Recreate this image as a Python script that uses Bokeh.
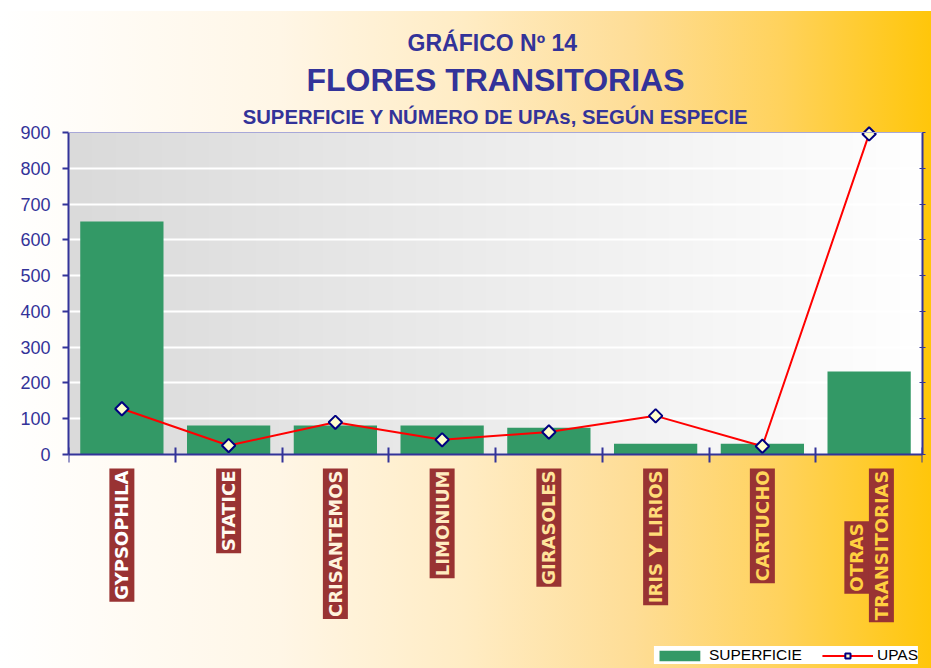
import numpy as np
from math import pi
from bokeh.plotting import figure
from bokeh.models import (Range1d, LinearAxis, FixedTicker, Label, Legend,
                          LegendItem, Grid, Span)
from bokeh.embed import file_html
from bokeh.resources import INLINE

# ---------------- data ----------------
categories = ["GYPSOPHILA", "STATICE", "CRISANTEMOS", "LIMONIUM", "GIRASOLES",
              "IRIS Y LIRIOS", "CARTUCHO", "OTRAS\nTRANSITORIAS"]
superficie = [651, 81, 81, 81, 75, 30, 30, 232]
upas = [128, 25, 90, 41, 63, 108, 23, 896]
y_ticks = [0, 100, 200, 300, 400, 500, 600, 700, 800, 900]
title_lines = ["GRÁFICO Nº  14", "FLORES TRANSITORIAS",
               "SUPERFICIE Y NÚMERO DE UPAs, SEGÚN ESPECIE"]
series_names = ["SUPERFICIE", "UPAS"]

# ---------------- layout / styles ----------------
BLUE = "#333399"
FONT = "Liberation Sans"
W, H = 931, 668
FR_LEFT, FR_RIGHT = 68, 922          # plot-area pixel edges
PX_TOP, PX_ZERO = 132, 454           # pixel rows of 900 and 0
YMAX = y_ticks[-1]
k = YMAX / (PX_ZERO - PX_TOP)        # data units per pixel
y_lo = -(H - PX_ZERO) * k
y_hi = YMAX + PX_TOP * k

xs = list(range(1, len(categories) + 1))
n = len(categories)

p = figure(width=W, height=H,
           x_range=Range1d(0.5, n + 0.5), y_range=Range1d(y_lo, y_hi),
           output_backend="svg", toolbar_location=None,
           x_axis_type=None, y_axis_type=None,
           min_border_left=FR_LEFT, min_border_right=W - FR_RIGHT,
           min_border_top=0, min_border_bottom=0,
           background_fill_color=None, border_fill_color=None,
           outline_line_color=None,
           styles={"background":
                   "linear-gradient(to bottom, #ffffff 0px, #ffffff 11px, transparent 11px), "
                   "linear-gradient(to right, #ffffff 0%, #fff6e6 30%, #ffecc4 50%, "
                   "#fedd96 68%, #ffd25c 84%, #ffc60a 100%)"})

# plot-area gradient (grey -> white)
N = 256
img = np.empty((1, N), dtype=np.uint32)
view = img.view(dtype=np.uint8).reshape((1, N, 4))
t = np.linspace(0, 1, N)
g = (218 + (255 - 218) * t).astype(np.uint8)
view[0, :, 0] = g
view[0, :, 1] = g
view[0, :, 2] = g
view[0, :, 3] = 255
p.image_rgba(image=[img], x=0.5, y=0, dw=n, dh=YMAX, level="image")

p.add_layout(Grid(dimension=1, ticker=FixedTicker(ticks=y_ticks[1:-1]),
                  grid_line_color="white", grid_line_width=2))
p.add_layout(Span(location=YMAX, dimension="width", line_color="#a8a8d8",
                  line_width=1))

bars = p.vbar(x=xs, top=superficie, width=0.78, fill_color="#339966",
              line_color=None)
ln = p.line(xs, upas, line_color="#ff0000", line_width=2)
pts = p.scatter(xs, upas, marker="square", angle=pi / 4, size=9.5,
                fill_color="#ffffcc", line_color="#000080", line_width=2)

# axes
yaxis = LinearAxis(ticker=FixedTicker(ticks=y_ticks), bounds=(0, YMAX),
                   axis_line_color=BLUE, axis_line_width=2,
                   major_tick_line_color=BLUE, major_tick_line_width=2,
                   major_tick_out=6, major_tick_in=0,
                   minor_tick_line_color=None,
                   major_label_text_color=BLUE, major_label_text_font=FONT,
                   major_label_text_font_size="18px", major_label_standoff=12)
p.add_layout(yaxis, "left")

raxis = LinearAxis(ticker=FixedTicker(ticks=y_ticks), bounds=(0, YMAX),
                   axis_line_color=BLUE, axis_line_width=2,
                   major_tick_line_color=BLUE, major_tick_line_width=1,
                   major_tick_out=3, major_tick_in=3,
                   minor_tick_line_color=None,
                   major_label_text_font_size="0px", major_label_standoff=0)
p.add_layout(raxis, "right")

xaxis = LinearAxis(ticker=FixedTicker(ticks=[i + 0.5 for i in range(n + 1)]),
                   fixed_location=0,
                   axis_line_color=BLUE, axis_line_width=2,
                   major_tick_line_color=BLUE, major_tick_line_width=2,
                   major_tick_out=8, major_tick_in=7,
                   minor_tick_line_color=None,
                   major_label_text_font_size="0px")
p.add_layout(xaxis, "below")

# titles
title_px = [42, 79, 116.5]
title_sizes = ["23px", "32px", "20.3px"]
for txt, py, fs in zip(title_lines, title_px, title_sizes):
    p.add_layout(Label(x=(n + 1) / 2, y=YMAX + (PX_TOP - py) * k, text=txt,
                       text_align="center", text_baseline="middle",
                       text_font=FONT, text_font_style="bold",
                       text_font_size=fs, text_color=BLUE))

# category labels (vertical, on dark red boxes)
lab_colors = ["#ffffff", "#fffaf0", "#fff3dc", "#ffecc0", "#ffe49c",
              "#ffdc78", "#ffd65a", "#ffd040"]
for i, cat in enumerate(categories):
    lines = cat.split("\n")
    m = len(lines)
    for j, line in enumerate(lines):
        dx = (j - (m - 1) / 2) * 0.23
        last = (j == m - 1)
        p.add_layout(Label(x=xs[i] + dx, y=-14 * k if last else -103 * k,
                           text=line, angle=pi / 2,
                           text_align="right" if last else "center",
                           text_baseline="middle", text_font="DejaVu Sans",
                           text_font_style="bold", text_font_size="18px",
                           text_color=lab_colors[i],
                           background_fill_color="#993333",
                           padding=2))

legend = Legend(items=[LegendItem(label=series_names[0], renderers=[bars]),
                       LegendItem(label=series_names[1], renderers=[ln, pts])],
                orientation="horizontal", location="bottom_right",
                background_fill_color="white", background_fill_alpha=1,
                border_line_color=None,
                label_text_font=FONT, label_text_font_size="15.5px",
                label_text_color="black", label_height=16,
                glyph_width=51, glyph_height=13, spacing=20, padding=6,
                margin=4, label_standoff=4)
p.add_layout(legend, "center")

open("out.html", "w").write(file_html(p, INLINE))
